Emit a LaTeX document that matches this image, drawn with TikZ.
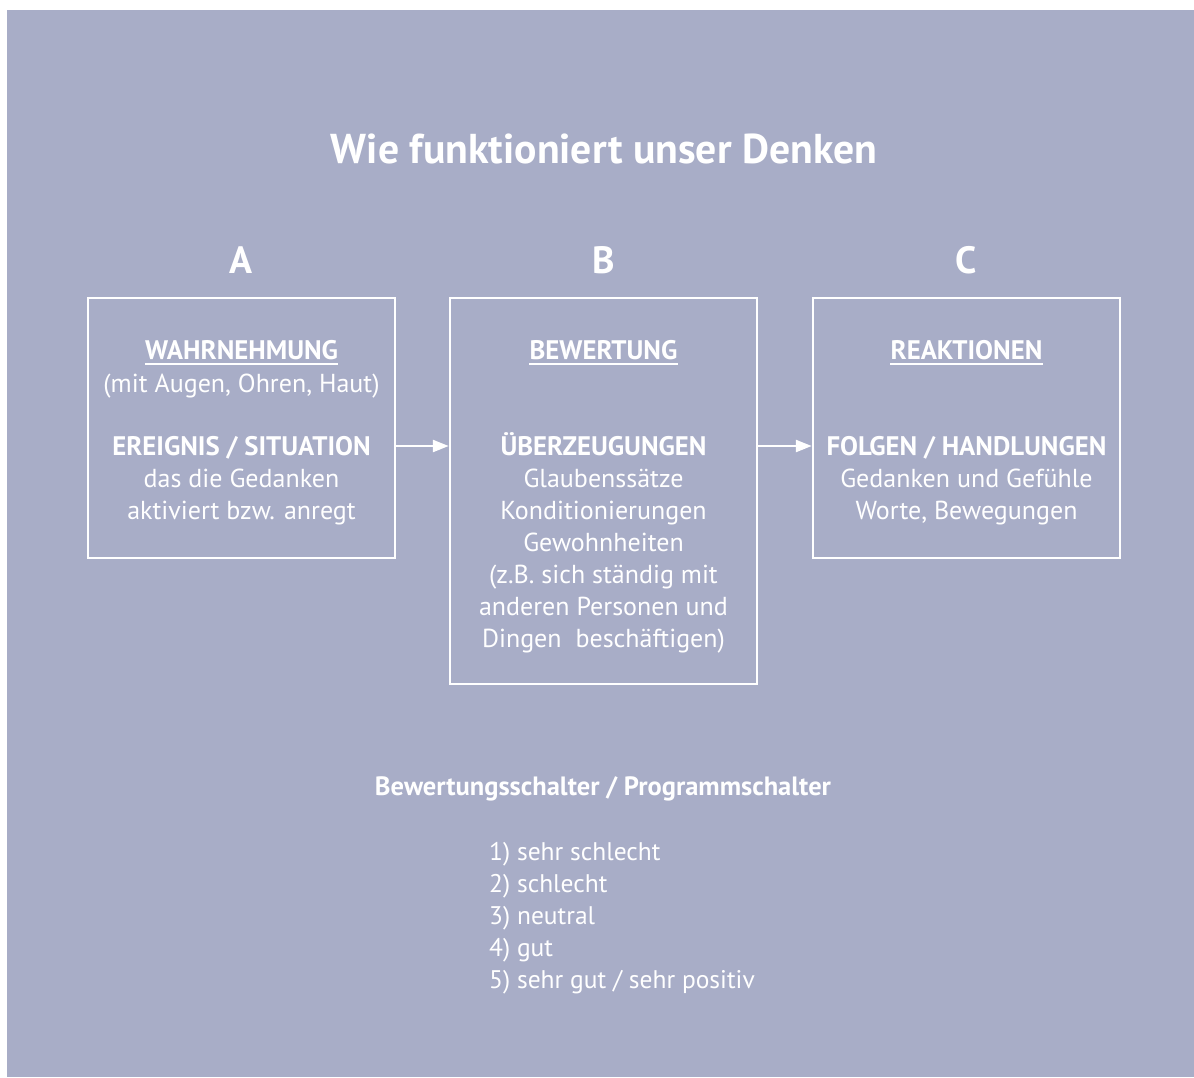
\documentclass[tikz,border=0pt]{standalone}
\usepackage{fontspec}
\setmainfont{PT Sans}
\usetikzlibrary{arrows.meta,calc}
\definecolor{bgc}{HTML}{A8ADC7}
\tikzset{
  lbl/.style={text=white, inner sep=0pt, anchor=base},
  reg/.style={lbl, font=\fontsize{26}{30}\selectfont},
  bld/.style={lbl, font=\fontsize{26.8}{30}\selectfont\bfseries},
  lst/.style={lbl, anchor=base west, font=\fontsize{25.5}{30}\selectfont},
  box/.style={draw=white, line width=2.5pt, fill=none, minimum width=307pt, inner sep=0pt},
  arr/.style={draw=white, line width=2.5pt, -{Triangle[length=16pt,width=12pt]}},
  uline/.style={draw=white, line width=1.6pt},
}
\begin{document}
\begin{tikzpicture}[x=1pt,y=-1pt]
\useasboundingbox (0,0) rectangle (1194,1077);
\fill[bgc] (7,10) rectangle (1194,1077);
% title
\node[lbl, font=\fontsize{41.7}{46}\selectfont\bfseries] (title) at (604,163) {Wie funktioniert unser Denken};
\node[lbl, font=\fontsize{38}{42}\selectfont\bfseries] (la) at (241,273) {A};
\node[lbl, font=\fontsize{38}{42}\selectfont\bfseries] (lb) at (604,273) {B};
\node[lbl, font=\fontsize{38}{42}\selectfont\bfseries] (lc) at (966,273) {C};
% boxes
\node[box, minimum height=260pt] (boxA) at (241.5,428) {};
\node[box, minimum height=386pt] (boxB) at (603.5,491) {};
\node[box, minimum height=260pt] (boxC) at (966.5,428) {};
% box A text
\node[bld] (hA) at (241.5,359) {WAHRNEHMUNG};
\node[reg] (a2) at (241.5,392) {(mit Augen, Ohren, Haut)};
\node[bld] (a3) at (241.5,455) {EREIGNIS / SITUATION};
\node[reg] (a4) at (241.5,487) {das die Gedanken};
\node[reg] (a5) at (241.5,519) {aktiviert bzw. anregt};
% box B text
\node[bld] (hB) at (603.5,359) {BEWERTUNG};
\node[bld] (b3) at (603.5,455) {ÜBERZEUGUNGEN};
\node[reg] (b4) at (603.5,487) {Glaubenssätze};
\node[reg] (b5) at (603.5,519) {Konditionierungen};
\node[reg] (b6) at (603.5,551) {Gewohnheiten};
\node[reg] (b7) at (603.5,583) {(z.B. sich ständig mit};
\node[reg] (b8) at (603.5,615) {anderen Personen und};
\node[reg] (b9) at (603.5,647) {Dingen\ \ beschäftigen)};
% box C text
\node[bld] (hC) at (966.5,359) {REAKTIONEN};
\node[bld] (c3) at (966.5,455) {FOLGEN / HANDLUNGEN};
\node[reg] (c4) at (966.5,487) {Gedanken und Gefühle};
\node[reg] (c5) at (966.5,519) {Worte, Bewegungen};
% underlines
\foreach \h in {hA,hB,hC}{
  \draw[uline] ($(\h.base west)+(0,5)$) -- ($(\h.base east)+(0,5)$);
}
% arrows
\coordinate (ay) at (0,446);
\draw[arr] (boxA.east |- ay) -- (boxB.west |- ay);
\draw[arr] (boxB.east |- ay) -- (boxC.west |- ay);
% bottom
\node[lbl, font=\fontsize{26.5}{30}\selectfont\bfseries] (sw) at (603,795) {Bewertungsschalter / Programmschalter};
\node[lst] (l1) at (489,860) {1) sehr schlecht};
\node[lst] (l2) at (489,892) {2) schlecht};
\node[lst] (l3) at (489,924) {3) neutral};
\node[lst] (l4) at (489,956) {4) gut};
\node[lst] (l5) at (489,988) {5) sehr gut / sehr positiv};
\end{tikzpicture}
\end{document}
